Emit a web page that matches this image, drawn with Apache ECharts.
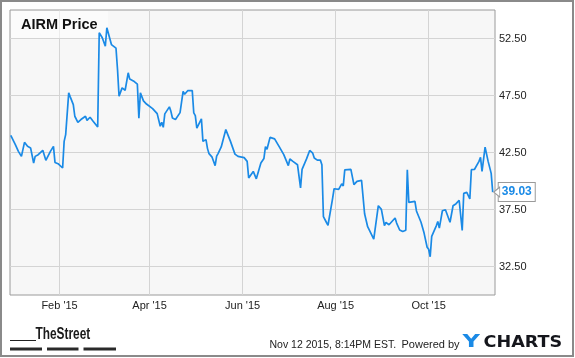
<!DOCTYPE html>
<html>
<head>
<meta charset="utf-8">
<script src="https://cdn.jsdelivr.net/npm/echarts@6/dist/echarts.min.js"></script>
<style>
html,body{margin:0;padding:0;background:#fff;}
#chart{width:575px;height:358px;}
</style>
</head>
<body>
<div id="chart"></div>
<script>
const dates = [
'2014-12-31','2015-01-03','2015-01-05','2015-01-07','2015-01-08','2015-01-09','2015-01-11','2015-01-13','2015-01-14','2015-01-15',
'2015-01-16','2015-01-18','2015-01-21','2015-01-23','2015-01-26','2015-01-28','2015-01-29','2015-01-31','2015-02-03','2015-02-04',
'2015-02-05','2015-02-07','2015-02-08','2015-02-10','2015-02-11','2015-02-13','2015-02-15','2015-02-18','2015-02-19','2015-02-21',
'2015-02-23','2015-02-24','2015-02-26','2015-02-27','2015-03-01','2015-03-03','2015-03-04','2015-03-07','2015-03-10','2015-03-11',
'2015-03-12','2015-03-14','2015-03-16','2015-03-18','2015-03-19','2015-03-22','2015-03-24','2015-03-25','2015-03-26','2015-03-28',
'2015-03-30','2015-04-03','2015-04-06','2015-04-08','2015-04-09','2015-04-10','2015-04-11','2015-04-14','2015-04-15','2015-04-16',
'2015-04-18','2015-04-21','2015-04-23','2015-04-24','2015-04-26','2015-04-29','2015-04-30','2015-05-01','2015-05-02','2015-05-05',
'2015-05-06','2015-05-08','2015-05-09','2015-05-10','2015-05-12','2015-05-14','2015-05-15','2015-05-16','2015-05-18','2015-05-21',
'2015-05-22','2015-05-24','2015-05-27','2015-05-29','2015-06-02','2015-06-04','2015-06-05','2015-06-08','2015-06-10','2015-06-13',
'2015-06-15','2015-06-16','2015-06-17','2015-06-19','2015-06-22','2015-06-25','2015-06-26','2015-06-28','2015-07-01','2015-07-02',
'2015-07-04','2015-07-07','2015-07-09','2015-07-10','2015-07-13','2015-07-15','2015-07-17','2015-07-18','2015-07-20','2015-07-22',
'2015-07-23','2015-07-24','2015-07-26','2015-07-27','2015-07-30','2015-07-31','2015-08-03','2015-08-05','2015-08-06','2015-08-07',
'2015-08-11','2015-08-13','2015-08-15','2015-08-18','2015-08-20','2015-08-22','2015-08-26','2015-08-29','2015-08-31','2015-09-02',
'2015-09-03','2015-09-05','2015-09-09','2015-09-10','2015-09-12','2015-09-14','2015-09-16','2015-09-17','2015-09-18','2015-09-22',
'2015-09-23','2015-09-26','2015-09-28','2015-09-30','2015-10-01','2015-10-02','2015-10-03','2015-10-06','2015-10-07','2015-10-08',
'2015-10-10','2015-10-12','2015-10-13','2015-10-15','2015-10-17','2015-10-19','2015-10-21','2015-10-23','2015-10-24','2015-10-26',
'2015-10-28','2015-10-29','2015-10-30','2015-10-31','2015-11-03','2015-11-04','2015-11-05','2015-11-07','2015-11-09','2015-11-11',
'2015-11-12'
];
const prices = [
44.01,43.19,42.60,42.16,42.31,43.39,43.04,42.90,43.04,41.58,
42.16,42.31,42.69,41.81,42.60,43.04,41.63,41.52,41.14,43.48,
44.07,47.73,47.38,46.70,45.68,45.15,45.39,45.68,45.32,45.59,
45.24,45.10,44.74,53.00,52.56,51.82,53.44,51.97,51.65,49.78,
47.43,48.17,47.96,49.49,48.94,48.72,48.50,45.50,47.73,47.03,
46.75,46.35,45.91,44.80,45.15,44.71,45.89,46.50,46.11,45.53,
45.39,46.00,47.87,47.61,47.92,47.93,45.97,45.74,44.64,45.45,
43.48,43.63,42.84,42.40,42.09,41.35,42.18,42.43,42.99,44.51,
44.58,43.50,42.36,42.16,42.05,41.72,40.26,40.84,40.19,41.58,
41.98,43.01,42.78,43.83,43.70,43.01,43.01,42.31,41.35,41.93,
41.72,41.43,39.39,41.02,41.96,42.68,42.44,42.02,41.83,41.83,
41.43,36.87,36.36,36.12,38.45,39.32,39.26,39.75,39.56,40.97,
41.02,39.68,39.97,40.05,37.13,35.99,34.91,37.83,37.51,36.09,
36.36,36.16,36.75,36.31,35.70,35.57,35.68,40.99,38.12,38.21,
37.37,36.38,35.43,34.19,34.01,33.35,35.14,36.07,36.45,35.87,
37.39,37.48,37.33,36.38,37.83,38.01,38.31,35.66,38.91,39.00,
38.42,40.99,41.14,41.01,41.72,42.07,40.84,42.97,41.72,40.67,
39.03
];
const yTicks = [32.5, 37.5, 42.5, 47.5, 52.5];
const xTickDates = ['2015-02-01','2015-04-01','2015-06-01','2015-08-01','2015-10-01'];
const xTickLabels = ["Feb '15", "Apr '15", "Jun '15", "Aug '15", "Oct '15"];
const titleText = 'AIRM Price';
const footerDate = 'Nov 12 2015, 8:14PM EST.';
const footerPowered = 'Powered by';

function ts(s) {
  const p = s.split('-').map(Number);
  return Date.UTC(p[0], p[1] - 1, p[2]);
}
const HALF_DAY = 12 * 3600 * 1000;
const xTickTs = xTickDates.map(ts);
const seriesData = dates.map((d, i) => [ts(d), prices[i]]);
const lastVal = prices[prices.length - 1];
const FONT = '"Liberation Sans", Arial, sans-serif';
const LOGO_FONT = '"DejaVu Sans", "Liberation Sans", sans-serif';

const chart = echarts.init(document.getElementById('chart'), null, {renderer: 'canvas'});
chart.setOption({
  animation: false,
  backgroundColor: '#ffffff',
  grid: {
    left: 10, right: 80, top: 10, bottom: 63,
    show: true, backgroundColor: '#f7f7f7', borderColor: '#9a9a9a', borderWidth: 1
  },
  xAxis: {
    type: 'value',
    scale: true,
    min: ts(dates[0]) - HALF_DAY,
    max: ts(dates[dates.length - 1]) + 3 * HALF_DAY,
    axisLine: {show: false},
    axisTick: {show: false, customValues: xTickTs},
    splitLine: {show: true, lineStyle: {color: '#d4d4d4', width: 1}},
    axisLabel: {
      customValues: xTickTs,
      margin: 5,
      color: '#222',
      fontSize: 11,
      fontFamily: FONT,
      formatter: function (v) {
        const i = xTickTs.indexOf(v);
        return i >= 0 ? xTickLabels[i] : '';
      }
    }
  },
  yAxis: {
    type: 'value',
    position: 'right',
    min: 30, max: 55,
    axisLine: {show: false},
    axisTick: {show: false, customValues: yTicks},
    splitLine: {show: true, lineStyle: {color: '#d4d4d4', width: 1}},
    axisLabel: {
      customValues: yTicks,
      margin: 4,
      color: '#222',
      fontSize: 11,
      fontFamily: FONT,
      formatter: v => v.toFixed(2)
    }
  },
  series: [{
    type: 'line',
    data: seriesData,
    showSymbol: false,
    symbol: 'none',
    lineStyle: {color: '#1a8ae6', width: 1.7},
    endLabel: {
      show: true,
      distance: 6,
      formatter: () => lastVal.toFixed(2),
      color: '#1a8ae6',
      fontWeight: 'bold',
      fontSize: 12,
      fontFamily: FONT,
      backgroundColor: '#ffffff',
      borderColor: '#9a9a9a',
      borderWidth: 1,
      padding: [2, 3, 2, 3],
      lineHeight: 14
    },
    markPoint: {
      silent: true,
      symbol: 'path://M0,5 L7,0 L7,10 Z',
      symbolSize: [6, 10],
      symbolOffset: [4, 0],
      itemStyle: {color: '#ffffff', borderColor: '#9a9a9a', borderWidth: 1},
      label: {show: false},
      data: [{coord: seriesData[seriesData.length - 1]}]
    },
    z: 3
  }],
  graphic: [
    {type: 'rect', z: 100, shape: {x: 1, y: 1, width: 572, height: 355}, style: {fill: null, stroke: '#8a8a8a', lineWidth: 2}},
    {type: 'rect', z: 1, shape: {x: 11, y: 11, width: 97, height: 27}, style: {fill: 'rgba(255,255,255,0.55)'}},
    {type: 'text', z: 10, x: 21, y: 25, style: {text: titleText, font: 'bold 14.5px ' + FONT, fill: '#111', verticalAlign: 'middle'}},
    {type: 'rect', z: 10, shape: {x: 10, y: 340, width: 26, height: 1}, style: {fill: '#222'}},
    {type: 'text', z: 10, x: 35.5, y: 342.5, scaleX: 0.72, style: {text: 'TheStreet', font: 'bold 16.5px ' + FONT, fill: '#1a1a1a', verticalAlign: 'bottom'}},
    {type: 'rect', z: 10, shape: {x: 10, y: 347.5, width: 32, height: 3}, style: {fill: '#2a2a2a'}},
    {type: 'rect', z: 10, shape: {x: 47, y: 347.5, width: 31.5, height: 3}, style: {fill: '#2a2a2a'}},
    {type: 'rect', z: 10, shape: {x: 83.5, y: 347.5, width: 32.5, height: 3}, style: {fill: '#2a2a2a'}},
    {type: 'text', z: 10, x: 269.5, y: 345, style: {text: footerDate, font: '10.5px ' + FONT, fill: '#222', verticalAlign: 'middle'}},
    {type: 'text', z: 10, x: 401.5, y: 345, style: {text: footerPowered, font: '11px ' + FONT, fill: '#222', verticalAlign: 'middle'}},
    {type: 'text', z: 10, x: 462.5, y: 342, scaleX: 1.3, style: {text: 'Y', font: 'bold 18.5px ' + LOGO_FONT, fill: '#1a8ae6', verticalAlign: 'middle'}},
    {type: 'text', z: 10, x: 483.5, y: 342.5, scaleX: 1.1, style: {text: 'CHARTS', font: 'bold 16px ' + LOGO_FONT, fill: '#15161c', verticalAlign: 'middle'}}
  ]
});
</script>
</body>
</html>
